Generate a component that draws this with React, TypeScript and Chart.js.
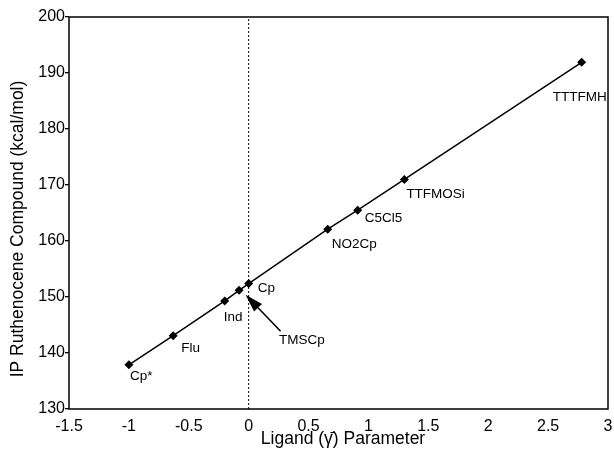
import React, { useEffect, useRef } from "react";
import { Chart, registerables } from "chart.js";

Chart.register(...registerables);

const compounds = ["Cp*", "Flu", "Ind", "TMSCp", "Cp", "NO2Cp", "C5Cl5", "TTFMOSi", "TTTFMH"];
const ligandParam = [-1.0, -0.63, -0.2, -0.08, 0.0, 0.66, 0.91, 1.3, 2.78];
const ipValues = [137.9, 143.1, 149.3, 151.2, 152.4, 162.1, 165.5, 171.0, 191.9];
const xTicks = [-1.5, -1, -0.5, 0, 0.5, 1, 1.5, 2, 2.5, 3];
const xTickLabels = ["-1.5", "-1", "-0.5", "0", "0.5", "1", "1.5", "2", "2.5", "3"];
const yTicks = [130, 140, 150, 160, 170, 180, 190, 200];
const referenceX = 0;
const xTitle = "Ligand (\u03B3\u0304) Parameter";
const yTitle = "IP Ruthenocene Compound (kcal/mol)";

// label placement (pixel offsets from each point)
const labelOffsets: number[][] = [
  [1, 12], [8, 13], [-1, 16], [40, 50], [9, 5], [4, 15], [7, 8], [2, 15], [-29, 35],
];
const arrowIndex = 3;
const FONT = "'Liberation Sans', Arial, Helvetica, sans-serif";

const annotate = {
  id: "annotate",
  beforeDatasetsDraw(chart: any) {
    const { ctx, chartArea: a } = chart;
    ctx.save();
    ctx.strokeStyle = "#000";
    ctx.lineWidth = 1.5;
    ctx.strokeRect(a.left, a.top, a.right - a.left, a.bottom - a.top);
    ctx.restore();
  },
  afterDatasetsDraw(chart: any) {
    const ctx = chart.ctx;
    const meta = chart.getDatasetMeta(0);
    ctx.save();
    ctx.fillStyle = "#000";
    ctx.font = `13.5px ${FONT}`;
    ctx.textBaseline = "middle";
    ctx.textAlign = "left";
    meta.data.forEach((pt: any, i: number) => {
      const [dx, dy] = labelOffsets[i];
      ctx.fillText(compounds[i], pt.x + dx, pt.y + dy);
    });
    // arrow to TMSCp
    const p = meta.data[arrowIndex];
    const tipX = p.x + 6.5, tipY = p.y + 4.5;
    const tailX = p.x + 41.5, tailY = p.y + 41;
    const ang = Math.atan2(tipY - tailY, tipX - tailX);
    const headLen = 18, headW = 5.5;
    const bx = tipX - headLen * Math.cos(ang), by = tipY - headLen * Math.sin(ang);
    ctx.strokeStyle = "#000";
    ctx.lineWidth = 1.6;
    ctx.beginPath();
    ctx.moveTo(tailX, tailY);
    ctx.lineTo(bx, by);
    ctx.stroke();
    ctx.beginPath();
    ctx.moveTo(tipX, tipY);
    ctx.lineTo(bx + headW * Math.sin(ang), by - headW * Math.cos(ang));
    ctx.lineTo(bx - headW * Math.sin(ang), by + headW * Math.cos(ang));
    ctx.closePath();
    ctx.fill();
    ctx.restore();
  },
  afterDraw(chart: any) {
    const ctx = chart.ctx;
    ctx.save();
    ctx.fillStyle = "#000";
    ctx.font = `17.5px ${FONT}`;
    ctx.textAlign = "center";
    ctx.textBaseline = "middle";
    ctx.fillText(xTitle, 343, 439);
    ctx.translate(18, 229);
    ctx.rotate(-Math.PI / 2);
    ctx.fillText(yTitle, 0, 0);
    ctx.restore();
  },
};

export default function App() {
  const ref = useRef<HTMLCanvasElement | null>(null);
  useEffect(() => {
    document.body.style.margin = "0";
    const canvas = ref.current;
    if (!canvas) return;
    const points = ligandParam.map((x, i) => ({ x, y: ipValues[i] }));
    const zeroLine = [
      { x: referenceX, y: yTicks[0] },
      { x: referenceX, y: yTicks[yTicks.length - 1] },
    ];
    const chart = new Chart(canvas, {
      type: "line",
      data: {
        datasets: [
          {
            data: points,
            borderColor: "#000",
            backgroundColor: "#000",
            borderWidth: 1.5,
            pointStyle: "rectRot",
            pointRadius: 4.5,
            pointBorderWidth: 0,
            tension: 0,
          },
          {
            data: zeroLine,
            borderColor: "#000",
            borderWidth: 1,
            borderDash: [2, 2],
            pointRadius: 0,
          },
        ],
      },
      options: {
        responsive: false,
        animation: false,
        events: [],
        layout: { padding: { top: 17, right: 6, left: 0, bottom: 0 } },
        plugins: { legend: { display: false }, tooltip: { enabled: false } },
        scales: {
          x: {
            type: "linear",
            min: xTicks[0],
            max: xTicks[xTicks.length - 1],
            afterBuildTicks: (s: any) => {
              s.ticks = xTicks.map((v) => ({ value: v }));
            },
            afterFit: (s: any) => {
              s.height = 43;
              s.paddingLeft = 0;
              s.paddingRight = 0;
            },
            border: { display: false },
            grid: { display: false, drawTicks: false },
            ticks: {
              color: "#000",
              padding: 8,
              font: { family: FONT, size: 16 },
              maxRotation: 0,
              autoSkip: false,
              callback: (v: any) => {
                const i = xTicks.indexOf(Number(v));
                return i >= 0 ? xTickLabels[i] : String(v);
              },
            },
          },
          y: {
            type: "linear",
            min: yTicks[0],
            max: yTicks[yTicks.length - 1],
            afterBuildTicks: (s: any) => {
              s.ticks = yTicks.map((v) => ({ value: v }));
            },
            afterFit: (s: any) => {
              s.width = 69;
              s.paddingTop = 0;
              s.paddingBottom = 0;
            },
            border: { display: false },
            grid: {
              drawOnChartArea: false,
              drawTicks: true,
              tickLength: 4,
              color: "#000",
              lineWidth: 1.3,
            },
            ticks: {
              color: "#000",
              padding: 0,
              font: { family: FONT, size: 16 },
              autoSkip: false,
            },
          },
        },
      },
      plugins: [annotate],
    });
    return () => chart.destroy();
  }, []);
  return (
    <div style={{ position: "absolute", left: 0, top: 0, width: 614, height: 452, background: "#fff" }}>
      <canvas ref={ref} width={614} height={452} style={{ display: "block" }} />
    </div>
  );
}
